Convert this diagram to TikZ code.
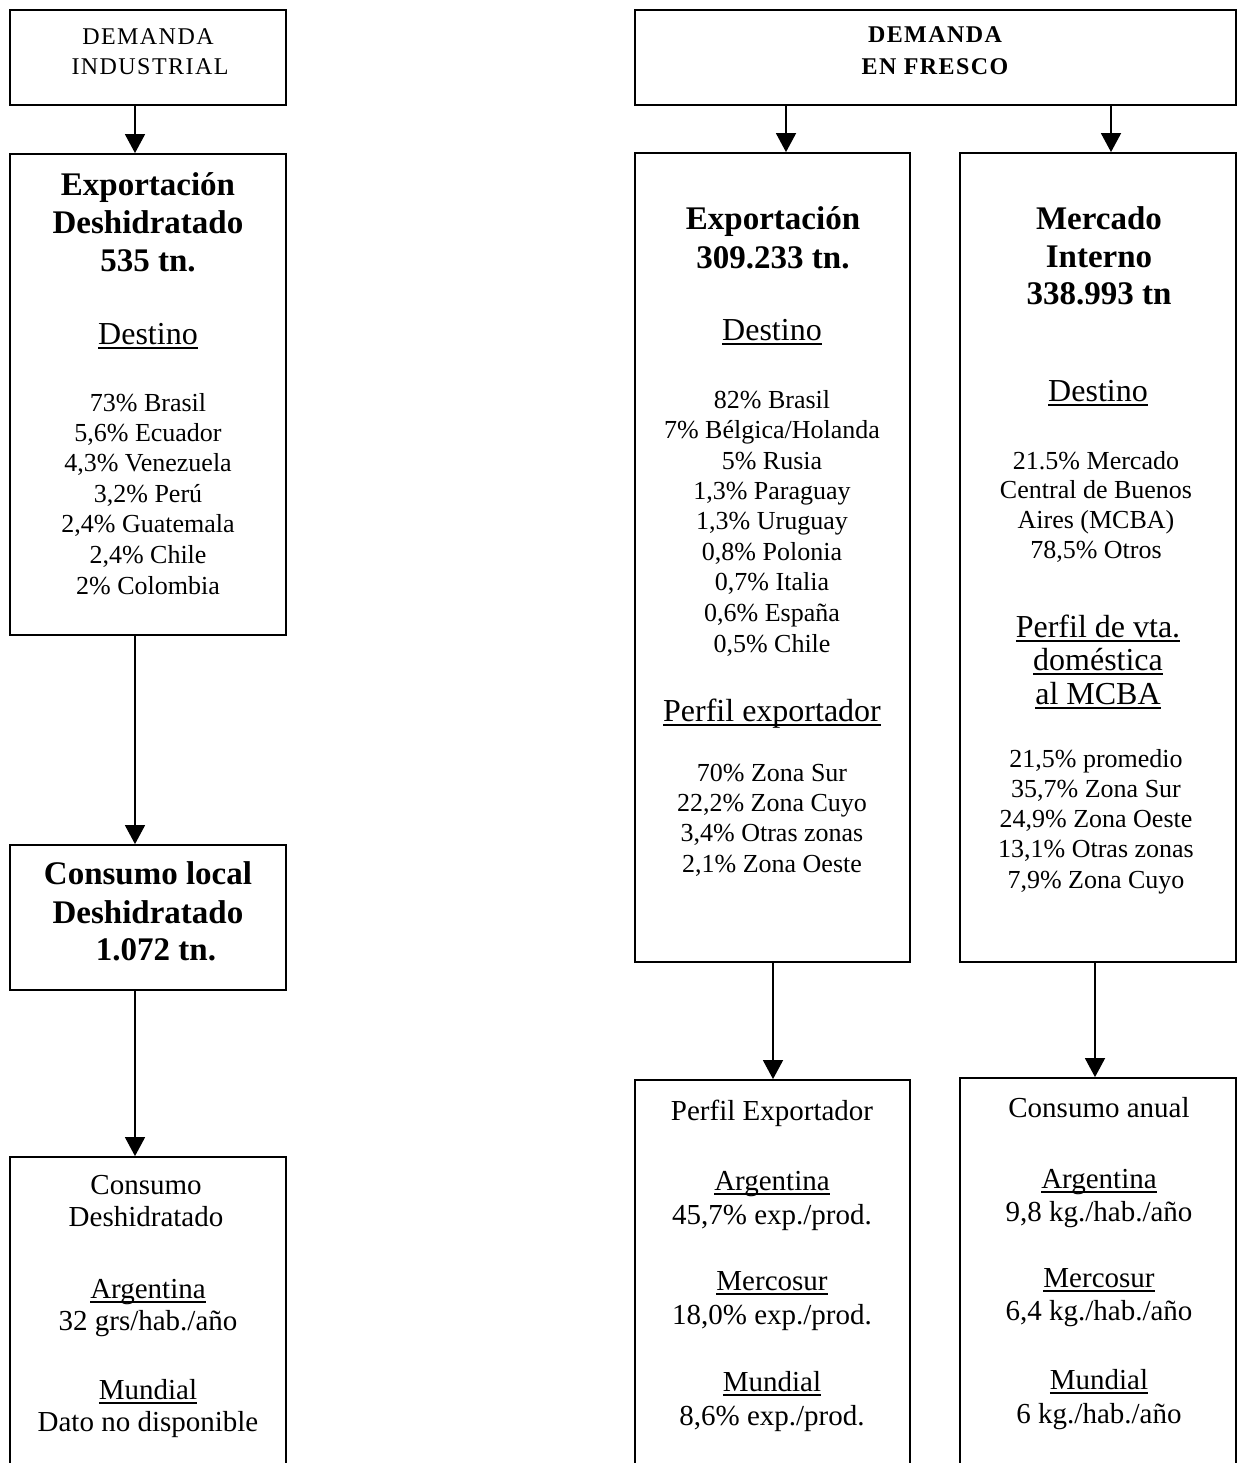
\documentclass[tikz,border=0pt]{standalone}
\usepackage{fontspec}
\setmainfont{Liberation Serif}
\newfontfamily\capsfont[LetterSpace=6]{Liberation Serif}
\usetikzlibrary{arrows.meta}
\newsavebox\ulbox
\newcommand\ulx[1]{\sbox\ulbox{#1}\rlap{\rule[-4pt]{\wd\ulbox}{1.5pt}}\usebox\ulbox}
\tikzset{
  box/.style={draw, line width=1.8pt, inner sep=0pt},
  arr/.style={line width=1.6pt, -{Triangle[width=20pt,length=19pt]}},
  tx/.style={inner sep=0pt, anchor=center, text depth=0pt},
  capr/.style={tx, font=\fontsize{24}{28}\selectfont\capsfont, text height=16pt},
  capbold/.style={tx, font=\fontsize{24}{28}\selectfont\capsfont\bfseries, text height=16pt},
  hb/.style={tx, font=\fontsize{33}{38}\selectfont\bfseries, text height=22pt},
  hu/.style={tx, font=\fontsize{32}{38}\selectfont, text height=21pt},
  li/.style={tx, font=\fontsize{26}{30}\selectfont, text height=17pt},
  bt/.style={tx, font=\fontsize{29}{33}\selectfont, text height=19pt},
}
\begin{document}
\begin{tikzpicture}[x=1pt,y=-1pt]
\useasboundingbox (0,0) rectangle (1237,1463);
\fill[white] (0,0) rectangle (1237,1463);
\clip (0,0) rectangle (1237,1463);

% boxes
\node[box, minimum width=276pt, minimum height=95pt]  (dind) at (148,57.5) {};
\node[box, minimum width=276pt, minimum height=481pt] (expd) at (148,394.5) {};
\node[box, minimum width=276pt, minimum height=145pt] (cloc) at (148,917.5) {};
\node[box, minimum width=276pt, minimum height=323pt] (cdes) at (148,1318.5) {};
\node[box, minimum width=601pt, minimum height=95pt]  (dfre) at (935.5,57.5) {};
\node[box, minimum width=275pt, minimum height=809pt] (expf) at (772.5,557.5) {};
\node[box, minimum width=276pt, minimum height=809pt] (mint) at (1098,557.5) {};
\node[box, minimum width=275pt, minimum height=400pt] (pexp) at (772.5,1280) {};
\node[box, minimum width=276pt, minimum height=402pt] (canu) at (1098,1279) {};

% arrows
\draw[arr] ([xshift=-13pt]dind.south) -- ([xshift=-13pt]expd.north);
\draw[arr] ([xshift=-13pt]expd.south) -- ([xshift=-13pt]cloc.north);
\draw[arr] ([xshift=-13pt]cloc.south) -- ([xshift=-13pt]cdes.north);
\draw[arr] (dfre.south -| 786,0) -- (expf.north -| 786,0);
\draw[arr] (dfre.south -| 1111,0) -- (mint.north -| 1111,0);
\draw[arr] (expf.south -| 773,0) -- (pexp.north -| 773,0);
\draw[arr] (mint.south -| 1095,0) -- (canu.north -| 1095,0);

% top boxes
\node[capr]    (di1) at (148,37) {DEMANDA};
\node[capr]    (di2) at (150,67) {INDUSTRIAL};
\node[capbold] (df1) at (935,35) {DEMANDA};
\node[capbold] (df2) at (935,67) {EN FRESCO};

% Exportacion deshidratado
\node[hb] (ed1) at (148,185) {Exportación};
\node[hb] (ed2) at (148,223) {Deshidratado};
\node[hb] (ed3) at (148,261) {535 tn.};
\node[hu] (ed4) at (148,334) {\ulx{Destino}};
\foreach \s/\y [count=\i] in {{73\% Brasil}/403,{5,6\% Ecuador}/433,{4,3\% Venezuela}/463,{3,2\% Perú}/494,{2,4\% Guatemala}/524,{2,4\% Chile}/555,{2\% Colombia}/586}
  \node[li] (edl\i) at (148,\y) {\s};

% Consumo local
\node[hb] (cl1) at (148,873) {Consumo local};
\node[hb] (cl2) at (148,912) {Deshidratado};
\node[hb] (cl3) at (156,949) {1.072 tn.};

% Consumo deshidratado
\node[bt] (cd1) at (146,1185) {Consumo};
\node[bt] (cd2) at (146,1217) {Deshidratado};
\node[bt] (cd3) at (148,1289) {\ulx{Argentina}};
\node[bt] (cd4) at (148,1321) {32 grs/hab./año};
\node[bt] (cd5) at (148,1390) {\ulx{Mundial}};
\node[bt] (cd6) at (148,1422) {Dato no disponible};

% Exportacion fresco
\node[hb] (ef1) at (773,219) {Exportación};
\node[hb] (ef2) at (773,257) {309.233 tn.};
\node[hu] (ef3) at (772,330) {\ulx{Destino}};
\foreach \s/\y [count=\i] in {{82\% Brasil}/400,{7\% Bélgica/Holanda}/430,{5\% Rusia}/461,{1,3\% Paraguay}/491,{1,3\% Uruguay}/521,{0,8\% Polonia}/552,{0,7\% Italia}/582,{0,6\% España}/613,{0,5\% Chile}/644}
  \node[li] (efl\i) at (772,\y) {\s};
\node[hu] (ef4) at (772,711) {\ulx{Perfil exportador}};
\foreach \s/\y [count=\i] in {{70\% Zona Sur}/773,{22,2\% Zona Cuyo}/803,{3,4\% Otras zonas}/833,{2,1\% Zona Oeste}/864}
  \node[li] (efp\i) at (772,\y) {\s};

% Mercado interno
\node[hb] (mi1) at (1099,219) {Mercado};
\node[hb] (mi2) at (1099,256) {Interno};
\node[hb] (mi3) at (1099,293) {338.993 tn};
\node[hu] (mi4) at (1098,391) {\ulx{Destino}};
\foreach \s/\y [count=\i] in {{21.5\% Mercado}/461,{Central de Buenos}/490,{Aires (MCBA)}/520,{78,5\% Otros}/550}
  \node[li] (mil\i) at (1096,\y) {\s};
\node[hu] (mi5) at (1098,627) {\ulx{Perfil de vta.}};
\node[hu] (mi6) at (1098,660) {\ulx{doméstica}};
\node[hu] (mi7) at (1098,694) {\ulx{al MCBA}};
\foreach \s/\y [count=\i] in {{21,5\% promedio}/759,{35,7\% Zona Sur}/789,{24,9\% Zona Oeste}/819,{13,1\% Otras zonas}/849,{7,9\% Zona Cuyo}/880}
  \node[li] (mip\i) at (1096,\y) {\s};

% Perfil exportador (bottom)
\node[bt] (pe1) at (772,1111) {Perfil Exportador};
\node[bt] (pe2) at (772,1181) {\ulx{Argentina}};
\node[bt] (pe3) at (772,1215) {45,7\% exp./prod.};
\node[bt] (pe4) at (772,1281) {\ulx{Mercosur}};
\node[bt] (pe5) at (772,1315) {18,0\% exp./prod.};
\node[bt] (pe6) at (772,1382) {\ulx{Mundial}};
\node[bt] (pe7) at (772,1416) {8,6\% exp./prod.};

% Consumo anual (bottom)
\node[bt] (ca1) at (1099,1108) {Consumo anual};
\node[bt] (ca2) at (1099,1179) {\ulx{Argentina}};
\node[bt] (ca3) at (1099,1212) {9,8 kg./hab./año};
\node[bt] (ca4) at (1099,1278) {\ulx{Mercosur}};
\node[bt] (ca5) at (1099,1311) {6,4 kg./hab./año};
\node[bt] (ca6) at (1099,1380) {\ulx{Mundial}};
\node[bt] (ca7) at (1099,1414) {6 kg./hab./año};
\end{tikzpicture}
\end{document}
